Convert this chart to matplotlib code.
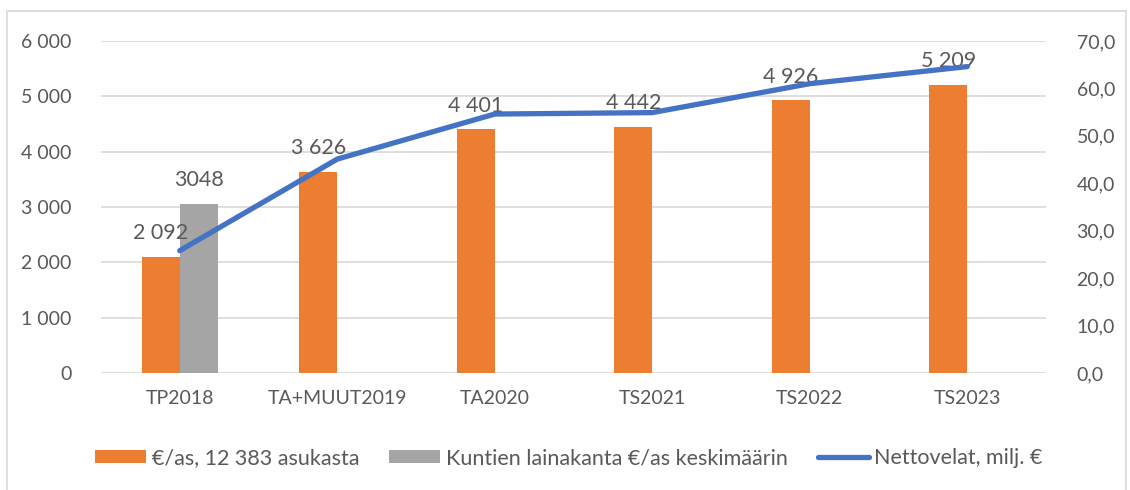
import matplotlib
matplotlib.use("Agg")
import matplotlib.pyplot as plt
from matplotlib.patches import Rectangle, Patch
from matplotlib.lines import Line2D
import numpy as np

categories = ["TP2018", "TA+MUUT2019", "TA2020", "TS2021", "TS2022", "TS2023"]
per_capita = [2092, 3626, 4401, 4442, 4926, 5209]
per_capita_labels = ["2 092", "3 626", "4 401", "4 442", "4 926", "5 209"]
avg_municipal = [3048, None, None, None, None, None]
avg_municipal_labels = ["3048", "", "", "", "", ""]
net_debt = [25.8, 45.1, 54.6, 54.9, 61.0, 64.6]

left_ticks = [0, 1000, 2000, 3000, 4000, 5000, 6000]
left_tick_labels = ["0", "1 000", "2 000", "3 000", "4 000", "5 000", "6 000"]
right_ticks = [0, 10, 20, 30, 40, 50, 60, 70]
right_tick_labels = ["0,0", "10,0", "20,0", "30,0", "40,0", "50,0", "60,0", "70,0"]

legend_labels = ["€/as, 12 383 asukasta", "Kuntien lainakanta €/as keskimäärin", "Nettovelat, milj. €"]

ORANGE = "#ED7D31"
GRAY = "#A5A5A5"
BLUE = "#4472C4"
TEXT = "#595959"
GRID = "#D9D9D9"

plt.rcParams['font.family'] = ['Lato', 'DejaVu Sans']

W, H = 1130, 490
fig = plt.figure(figsize=(W / 100, H / 100), dpi=100)
ax = fig.add_axes([101 / W, 1 - 373 / H, (1046 - 101) / W, (373 - 41) / H])
ax2 = ax.twinx()

x = np.arange(len(categories))
bw = 0.242
ax.bar(x - bw / 2, per_capita, width=bw, color=ORANGE, zorder=2)
gx = [xi + bw / 2 for xi, v in zip(x, avg_municipal) if v is not None]
gv = [v for v in avg_municipal if v is not None]
ax.bar(gx, gv, width=bw, color=GRAY, zorder=2)

for xi, v, lab in zip(x, per_capita, per_capita_labels):
    ax.annotate(lab, (xi - bw / 2, v), xytext=(0, 10), textcoords="offset points",
                ha="center", va="bottom", fontsize=15.5, color=TEXT, zorder=5)
for xi, v, lab in zip(x, avg_municipal, avg_municipal_labels):
    if v is not None:
        ax.annotate(lab, (xi + bw / 2, v), xytext=(0, 10), textcoords="offset points",
                    ha="center", va="bottom", fontsize=15.5, color=TEXT, zorder=5)

ax2.plot(x, net_debt, color=BLUE, lw=3.8, solid_capstyle="round", solid_joinstyle="round", zorder=4)

ax.set_xlim(-0.5, len(categories) - 0.5)
ax.set_ylim(0, 6000)
ax2.set_ylim(0, 70)
ax.set_yticks(left_ticks)
ax.set_yticklabels(left_tick_labels)
ax2.set_yticks(right_ticks)
ax2.set_yticklabels(right_tick_labels)
ax.set_xticks(x)
ax.set_xticklabels(categories)

ax.grid(axis="y", color=GRID, lw=1.2, zorder=0)
ax.set_axisbelow(True)
for a in (ax, ax2):
    for s in a.spines.values():
        s.set_visible(False)
    a.tick_params(length=0, labelsize=14, colors=TEXT)
ax.tick_params(axis="y", pad=21)
ax2.tick_params(axis="y", pad=22)
ax.tick_params(axis="x", pad=12)

handles = [Patch(facecolor=ORANGE), Patch(facecolor=GRAY), Line2D([], [], color=BLUE, lw=3.8, solid_capstyle="round")]
fig.legend(handles, legend_labels, loc="center", bbox_to_anchor=(569 / W, 1 - 458 / H), ncol=3,
           frameon=False, fontsize=15.5, labelcolor=TEXT, handlelength=2.37, handleheight=0.6,
           handletextpad=0.25, columnspacing=1.4)

fig.patches.append(Rectangle((7 / W, -0.05), (1126 - 7) / W, 1 - 11 / H + 0.05,
                             transform=fig.transFigure, fill=False, edgecolor=GRID, lw=1.2))

fig.savefig("out.png", dpi=100, facecolor="white")
